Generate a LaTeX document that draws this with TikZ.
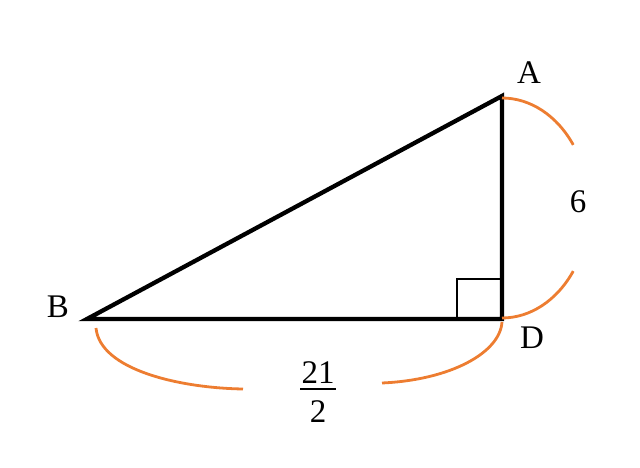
\documentclass[tikz,border=0pt]{standalone}
\usepackage{fontspec}
\setmainfont{Liberation Serif}
\definecolor{brace}{RGB}{237,125,49}
\begin{document}
\begin{tikzpicture}[x=1pt,y=1pt,
  side/.style={line width=4.3pt,black,line join=miter},
  rmark/.style={line width=2.2pt,black},
  brc/.style={line width=2.8pt,brace},
  lbl/.style={inner sep=0pt,font=\fontsize{33}{40}\selectfont}]
\useasboundingbox (0,0) rectangle (640,468);
\coordinate (B) at (87,149);
\coordinate (D) at (502,149);
\coordinate (A) at (502,372);
\draw[side] (B) -- (D) -- (A) -- cycle;
\coordinate (s1) at (457,149);
\coordinate (s2) at (457,189);
\coordinate (s3) at (502,189);
\draw[rmark] (s1) -- (s2) -- (s3);
% right brace
\coordinate (r1) at (502,370);
\coordinate (r2) at (502,150);
\draw[brc] (r1) arc[start angle=90,end angle=35,x radius=87,y radius=110];
\draw[brc] (r2) arc[start angle=-90,end angle=-35,x radius=87,y radius=110];
% bottom brace
\coordinate (b1) at (96,140);
\coordinate (b2) at (243,79);
\coordinate (b3) at (382,85);
\coordinate (b4) at (502,146);
\draw[brc] (b1) .. controls (100,98) and (180,80) .. (b2);
\draw[brc] (b3) .. controls (450,88) and (500,115) .. (b4);
% labels
\node[lbl] (lA) at (529,395) {A};
\node[lbl] (lB) at (58,161) {B};
\node[lbl] (lD) at (532,130) {D};
\node[lbl] (l6) at (578,266) {6};
\node[lbl] (num) at (318,95) {21};
\node[lbl] (den) at (318,56) {2};
\coordinate (f1) at (300,79);
\coordinate (f2) at (336,79);
\draw[line width=1.8pt] (f1) -- (f2);
\end{tikzpicture}
\end{document}
